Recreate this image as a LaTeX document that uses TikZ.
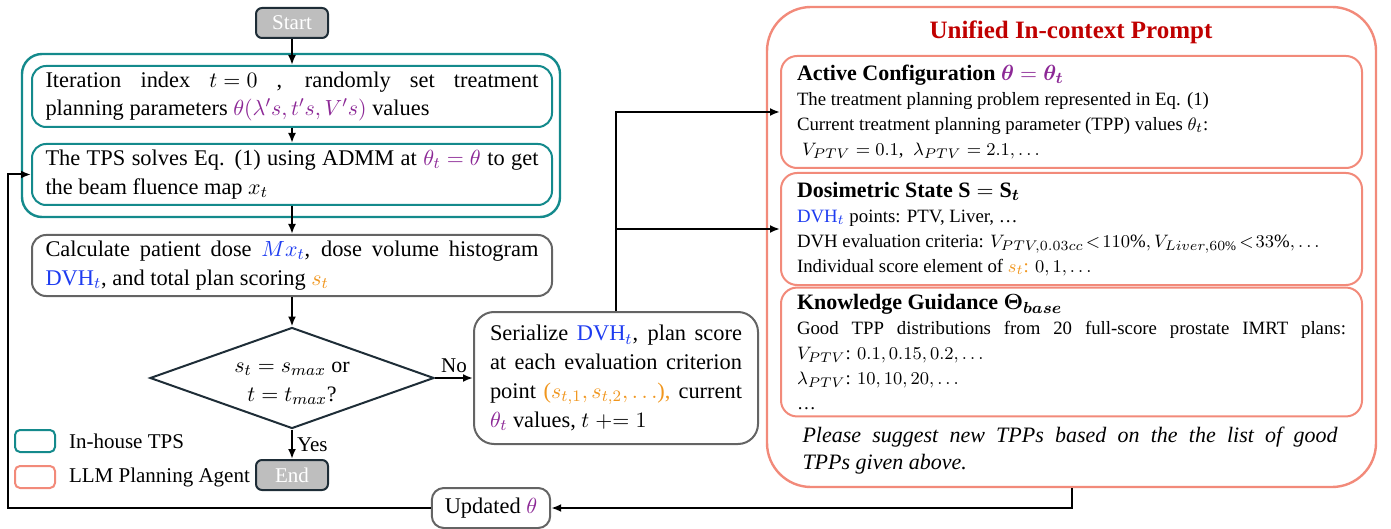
\documentclass[tikz,border=0pt]{standalone}
\usepackage{amsmath}
\usepackage{amssymb}
\usepackage{bm}
\usepackage{fontspec}
\setmainfont{Liberation Serif}
\usepackage{tikz}
\usepackage{xcolor}
\usetikzlibrary{shapes.geometric, arrows.meta, positioning}

\definecolor{tealc}{RGB}{20,138,140}
\definecolor{salmonc}{RGB}{242,138,122}
\definecolor{titlered}{RGB}{192,0,0}
\definecolor{thetac}{RGB}{140,40,150}
\definecolor{dvhc}{RGB}{30,60,240}
\definecolor{scorec}{RGB}{240,150,30}
\definecolor{boxgray}{RGB}{100,100,100}
\definecolor{termfill}{RGB}{190,190,190}
\definecolor{termdraw}{RGB}{30,45,55}

\newcommand{\fullline}[1]{\makebox[\hsize][s]{#1}}
\newcommand{\headfont}{\bfseries\fontsize{11}{12.5}\selectfont}

\tikzset{
  flow/.style={line width=1pt, -{Latex[length=5pt,width=4pt]}},
  termbox/.style={draw=termdraw, fill=termfill, line width=1pt, rounded corners=3pt, text=white,
    minimum width=36pt, minimum height=15pt, inner sep=0pt, font=\fontsize{10.5}{12}\selectfont},
  tpsbox/.style={draw=tealc, line width=1pt, rounded corners=7pt, text width=246.5pt, inner xsep=6.75pt,
    inner ysep=2pt, minimum height=30.5pt, align=justify, font=\fontsize{11.2}{14.4}\selectfont},
  calcbox/.style={tpsbox, draw=boxgray},
  decbox/.style={diamond, draw=termdraw, line width=1pt, minimum width=142pt, minimum height=50.5pt, inner sep=0pt},
  promptbox/.style={draw=salmonc, line width=1pt, rounded corners=8pt, text width=274.5pt, inner xsep=8pt,
    minimum height=56pt, align=justify, font=\fontsize{9.4}{12.5}\selectfont},
  legbox/.style={line width=1pt, rounded corners=2.5pt, minimum width=20pt, minimum height=11pt, inner sep=0pt},
  lbl/.style={font=\fontsize{10.5}{12}\selectfont}
}

\begin{document}
\begin{tikzpicture}[x=0.5pt,y=0.5pt,yscale=-1]
\useasboundingbox (0,0) rectangle (1391,529);

%Shape: Rounded Rect, in-house TPS group
\node [draw=tealc, line width=1.2pt, rounded corners=10pt, minimum width=269pt, minimum height=81.5pt] (tpsgroup) at (291,135.5) {};
%Shape: Rounded Rect, prompt frame
\node [draw=salmonc, line width=1.2pt, rounded corners=22pt, minimum width=304.5pt, minimum height=240pt] (prompt) at (1071.5,247) {};

%Terminals
\node [termbox] (start) at (292,23) {Start};
\node [termbox] (end) at (292,475) {End};

%Process boxes
\node [tpsbox] (init) at (292,96.5) {\fullline{Iteration index \mbox{$t=0$} , randomly set treatment}\\
  planning parameters \textcolor{thetac}{$\theta(\lambda's,t's,V's)$} values};
\node [tpsbox] (solve) at (292,174.5) {\fullline{The TPS solves Eq. (1) using ADMM at \textcolor{thetac}{\mbox{$\theta_t=\theta$}} to get}\\
  the beam fluence map $x_t$};
\node [calcbox] (dose) at (292,265.5) {\fullline{Calculate patient dose \textcolor{dvhc}{$Mx_t$}, dose volume histogram}\\
  \textcolor{dvhc}{DVH$_t$}, and total plan scoring \textcolor{scorec}{$s_t$}};

%Decision
\node [decbox] (check) at (292,378) {};
\node [align=center, font=\fontsize{11}{14.5}\selectfont] (checktxt) at (292,383) {$s_t=s_{max}$ or\\ $t=t_{max}$?};

%Serialize and update
\node [calcbox, rounded corners=10pt, text width=126pt, inner xsep=8pt, minimum height=66pt] (serial) at (616,378)
  {\fullline{Serialize \textcolor{dvhc}{DVH$_t$}, plan score}\\
   \fullline{at each evaluation criterion}\\
   \fullline{point \textcolor{scorec}{(\mbox{$s_{t,1},s_{t,2},\ldots$}),} current}\\
   \textcolor{thetac}{$\theta_t$} values, $t \mathrel{+}= 1$};
\node [calcbox, rounded corners=6pt, text width=, align=center, minimum height=20pt, inner xsep=6.5pt] (update) at (491,508)
  {Updated \textcolor{thetac}{$\theta$}};

%Prompt contents
\node [text=titlered, font=\bfseries\fontsize{12.5}{14}\selectfont] (ptitle) at (1071,32) {Unified In-context Prompt};
\node [promptbox] (cfg) at (1071.5,112)
  {{\headfont Active Configuration \textcolor{thetac}{$\bm{\theta}=\bm{\theta_t}$}}\\
   The treatment planning problem represented in Eq. (1)\\
   Current treatment planning parameter (TPP) values $\theta_t$:\\
   \hspace*{2.5pt}$V_{PTV}=0.1$,\ \ $\lambda_{PTV}=2.1,\ldots$};
\node [promptbox] (state) at (1071.5,229)
  {{\headfont Dosimetric State $\mathbf{S}=\mathbf{S}_{\bm{t}}$}\\
   \textcolor{dvhc}{DVH$_t$} points: PTV, Liver, \dots\\
   \mbox{DVH evaluation criteria: $V_{PTV,0.03cc}\!<\!110\%, V_{Liver,60\%}\!<\!33\%,\ldots$}\\
   Individual score element of \textcolor{scorec}{$s_t$:} $0,1,\ldots$};
\node [promptbox, minimum height=61pt] (guide) at (1071.5,352)
  {{\headfont Knowledge Guidance $\bm{\Theta}_{\bm{base}}$}\\
   \fullline{Good TPP distributions from 20 full-score prostate IMRT plans:}\\
   $V_{PTV}$: $0.1,0.15,0.2,\ldots$\\
   $\lambda_{PTV}$: $10,10,20,\ldots$\\
   \dots};
\node [text width=267.5pt, align=justify, font=\itshape\fontsize{11}{13.5}\selectfont] (ask) at (1070,451)
  {\fullline{Please suggest new TPPs based on the the list of good}\\ TPPs given above.};

%Legend
\node [legbox, draw=tealc] (legtps) at (35,441) {};
\node [lbl, anchor=west] (legtpstxt) at (62,441) {In-house TPS};
\node [legbox, draw=salmonc] (legllm) at (35,477) {};
\node [lbl, anchor=west] (legllmtxt) at (62,477) {LLM Planning Agent};

%Connectors
\coordinate (loopcorner) at (8,508);
\draw [flow] (start) -- (init);
\draw [flow] (init) -- (solve);
\draw [flow] (solve) -- (dose);
\draw [flow] (dose) -- (check);
\draw [flow] (check) -- node [lbl, right, inner sep=2pt] {Yes} (end);
\draw [flow] (check.east) -- node [lbl, above, inner sep=2pt] {No} (serial.west);
\draw [flow] (serial.north) |- (cfg.west);
\draw [flow] (serial.north |- state.west) -- (state.west);
\draw [flow] (prompt.south) |- (update.east);
\draw [flow] (update.west) -- (loopcorner) |- (solve.west);

\end{tikzpicture}
\end{document}
